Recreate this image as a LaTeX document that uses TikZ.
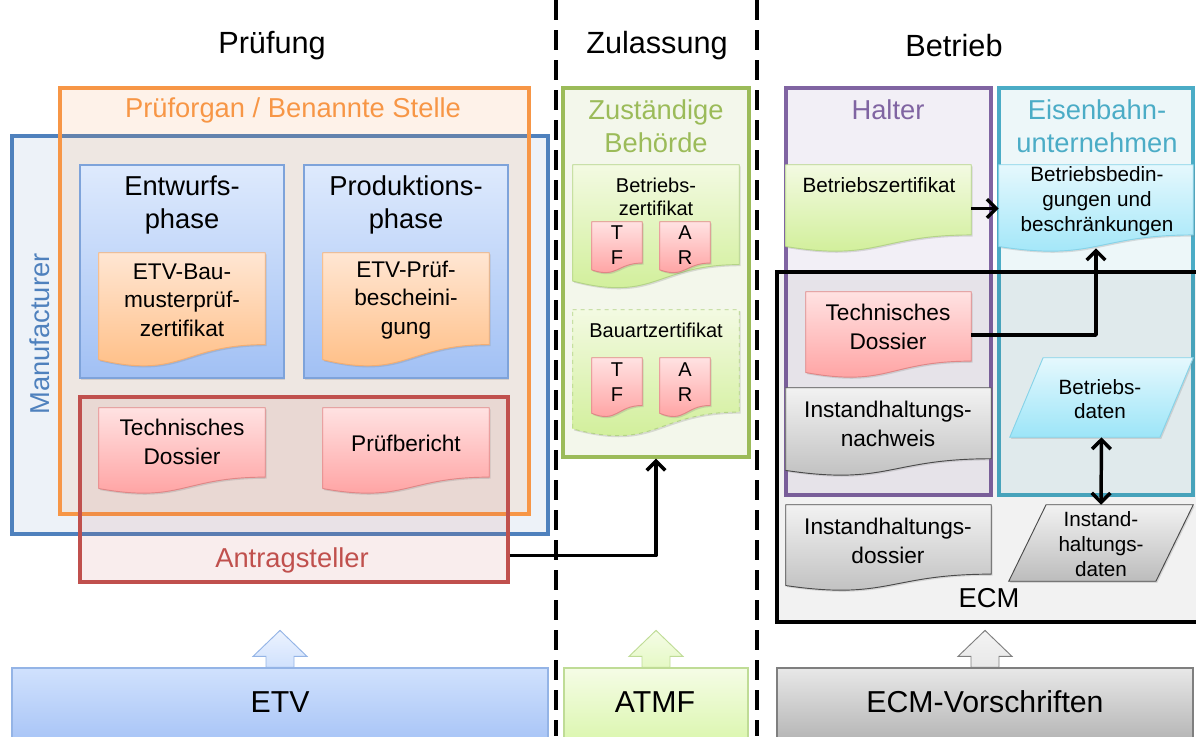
\documentclass[tikz,border=0pt]{standalone}
\usepackage{fontspec}
\setmainfont{Liberation Sans}
\usetikzlibrary{positioning,fit,calc,shadows,arrows.meta}

\definecolor{pruefOrange}{HTML}{F79646}
\definecolor{manufBlue}{HTML}{4F81BD}
\definecolor{antragRed}{HTML}{C0504D}
\definecolor{behoerdeGreen}{HTML}{9BBB59}
\definecolor{halterPurple}{HTML}{8064A2}
\definecolor{euTeal}{HTML}{4BACC6}

\definecolor{phaseTop}{HTML}{DEEAFD}
\definecolor{phaseBot}{HTML}{A1C0F4}
\definecolor{phaseLine}{HTML}{7EA3DA}
\definecolor{orTop}{HTML}{FFE6D3}
\definecolor{orBot}{HTML}{FFBC80}
\definecolor{orLine}{HTML}{F4AE72}
\definecolor{rdTop}{HTML}{FFE2E2}
\definecolor{rdBot}{HTML}{FF9D9D}
\definecolor{rdLine}{HTML}{E08686}
\definecolor{grTop}{HTML}{F3FAE2}
\definecolor{grBot}{HTML}{CEEE93}
\definecolor{grLine}{HTML}{B4D487}
\definecolor{gyTop}{HTML}{F2F2F2}
\definecolor{gyBot}{HTML}{BCBCBC}
\definecolor{gyLine}{HTML}{4A4A4A}
\definecolor{cyTop}{HTML}{E5F8FD}
\definecolor{cyBot}{HTML}{9CE5F8}
\definecolor{cyLine}{HTML}{86D3E8}

\definecolor{etvTop}{HTML}{D0E1FD}
\definecolor{etvBot}{HTML}{A6C3F6}
\definecolor{etvLine}{HTML}{94B4E6}
\definecolor{atmfTop}{HTML}{F5FCE6}
\definecolor{atmfBot}{HTML}{DAF6AC}
\definecolor{atmfLine}{HTML}{BFDC96}
\definecolor{ecmvTop}{HTML}{E8E8E8}
\definecolor{ecmvBot}{HTML}{B2B2B2}
\definecolor{ecmvLine}{HTML}{7F7F7F}

\newcommand{\docshape}[2]{%
  \path[#2] let \p1=(#1.north west), \p2=(#1.south east) in
    (\x1,\y1) -- (\x2,\y1) -- (\x2,{\y1+0.802*(\y2-\y1)})
    .. controls ({0.5*(\x1+\x2)},{\y1+0.802*(\y2-\y1)})
    and ({0.5*(\x1+\x2)},{\y1+1.1075*(\y2-\y1)})
    .. (\x1,{\y1+0.934*(\y2-\y1)}) -- cycle;}
\newcommand{\parashape}[3]{%
  \path[#3] (#1.south west) -- ([xshift=#2]#1.north west)
    -- (#1.north east) -- ([xshift=-#2]#1.south east) -- cycle;}

\begin{document}
\begin{tikzpicture}[x=0.75pt, y=-0.75pt,
    every node/.style={inner sep=0pt, align=center},
    zone/.style={fit={#1}, inner sep=0pt, line width=2.4pt},
    slot/.style={fit={#1}, inner sep=0pt},
    hdr/.style={font=\fontsize{23}{27}\selectfont},
    grp/.style={font=\fontsize{20.5}{25}\selectfont},
    doctxt/.style={font=\fontsize{17}{21.5}\selectfont},
    smalltxt/.style={font=\fontsize{15.5}{18.5}\selectfont},
    certtxt/.style={font=\fontsize{15}{17}\selectfont},
    tinytxt/.style={font=\fontsize{15}{18.5}\selectfont},
    basetxt/.style={font=\fontsize{22.7}{26}\selectfont},
    shadowed/.style={drop shadow={opacity=0.25, shadow xshift=1pt, shadow yshift=-1.2pt}},
    phasebox/.style={shadowed, draw=phaseLine, line width=0.9pt, top color=phaseTop, bottom color=phaseBot},
    orangedoc/.style={shadowed, draw=orLine, line width=0.7pt, top color=orTop, bottom color=orBot},
    reddoc/.style={shadowed, draw=rdLine, line width=0.7pt, top color=rdTop, bottom color=rdBot},
    greendoc/.style={shadowed, draw=grLine, line width=0.7pt, top color=grTop, bottom color=grBot},
    graydoc/.style={shadowed, draw=gyLine, line width=0.7pt, top color=gyTop, bottom color=gyBot},
    cyandoc/.style={shadowed, draw=cyLine, line width=0.7pt, top color=cyTop, bottom color=cyBot},
    basebox/.style={line width=0.9pt},
    blockup/.style={line width=0.7pt},
    divider/.style={line width=3pt, dash pattern=on 15pt off 7.5pt},
    conn/.style={line width=2.6pt, line join=round, -{Straight Barb[length=7pt, width=14pt]}},
    biconn/.style={line width=2.6pt, {Straight Barb[length=7pt, width=14pt]}-{Straight Barb[length=7pt, width=14pt]}}
  ]
    \useasboundingbox (0,0) rectangle (1196,736);
    \clip (0,0) rectangle (1196,736);

    % column headers and dividers
    \node[hdr] (pruefung) at (272,46) {Prüfung};
    \node[hdr] (zulassung) at (657,46) {Zulassung};
    \node[hdr] (betrieb) at (954,46) {Betrieb};
    \draw[divider] (556,0) -- (556,736);
    \draw[divider] (757,0) -- (757,736);

    % Pruefung
    \node[zone={(12,136) (548,534)}, draw=manufBlue, fill=manufBlue, fill opacity=0.1] (manuf) {};
    \node[zone={(60,88) (529,514)}, draw=pruefOrange, fill=pruefOrange, fill opacity=0.12] (organ) {};
    \node[zone={(80,397) (508,582)}, draw=antragRed, fill=antragRed, fill opacity=0.1] (antrag) {};
    \node[grp, text=manufBlue, rotate=90] (manuf-lbl) at (40,334) {Manufacturer};
    \node[grp, text=pruefOrange] (organ-lbl) at (293,110) {Prüforgan / Benannte Stelle};
    \node[grp, text=antragRed] (antrag-lbl) at (292,560) {Antragsteller};

    \node[zone={(80,165) (284,378)}, phasebox] (entwurf) {};
    \node[grp] (entwurf-txt) at (182,205) {Entwurfs-\\phase};
    \node[zone={(304,165) (508,378)}, phasebox] (produktion) {};
    \node[grp] (produktion-txt) at (406,205) {Produktions-\\phase};

    \node[slot={(99,253) (265,367)}] (etvbau) {};
    \docshape{etvbau}{orangedoc}
    \node[doctxt] (etvbau-txt) at (182,300) {ETV-Bau-\\musterprüf-\\zertifikat};
    \node[slot={(323,253) (489,367)}] (etvpruef) {};
    \docshape{etvpruef}{orangedoc}
    \node[doctxt] (etvpruef-txt) at (406,300) {ETV-Prüf-\\bescheini-\\gung};

    \node[slot={(99,408) (265,494)}] (techdoss) {};
    \docshape{techdoss}{reddoc}
    \node[doctxt] (techdoss-txt) at (182,442) {Technisches\\Dossier};
    \node[slot={(323,408) (489,494)}] (pbericht) {};
    \docshape{pbericht}{reddoc}
    \node[doctxt] (pbericht-txt) at (406,443) {Prüfbericht};

    % Zulassung
    \node[zone={(563,88) (749,457)}, draw=behoerdeGreen, fill=behoerdeGreen, fill opacity=0.12] (behoerde) {};
    \node[grp, text=behoerdeGreen] (behoerde-lbl) at (656,126) {Zuständige\\Behörde};

    \node[slot={(573,165) (739,289)}] (bzert) {};
    \docshape{bzert}{greendoc}
    \node[certtxt] (bzert-txt) at (656,197) {Betriebs-\\zertifikat};
    \node[slot={(592,222) (642,273)}] (bzert-tf) {};
    \docshape{bzert-tf}{reddoc}
    \node[tinytxt] (bzert-tf-txt) at (617,245) {T\\F};
    \node[slot={(660,222) (710,273)}] (bzert-ar) {};
    \docshape{bzert-ar}{reddoc}
    \node[tinytxt] (bzert-ar-txt) at (685,245) {A\\R};

    \node[slot={(573,310) (739,437)}] (bauart) {};
    \docshape{bauart}{greendoc, dashed}
    \node[certtxt] (bauart-txt) at (656,330) {Bauartzertifikat};
    \node[slot={(592,358) (642,417)}] (bauart-tf) {};
    \docshape{bauart-tf}{reddoc}
    \node[tinytxt] (bauart-tf-txt) at (617,382) {T\\F};
    \node[slot={(660,358) (710,417)}] (bauart-ar) {};
    \docshape{bauart-ar}{reddoc}
    \node[tinytxt] (bauart-ar-txt) at (685,382) {A\\R};

    \draw[conn] ([yshift=21pt]antrag.south east) -| (behoerde.south);

    % Betrieb
    \node[zone={(786,88) (991,495)}, draw=halterPurple, fill=halterPurple, fill opacity=0.1] (halter) {};
    \node[zone={(999,88) (1193,495)}, draw=euTeal, fill=euTeal, fill opacity=0.1] (eu) {};
    \node[grp, text=halterPurple] (halter-lbl) at (888,110) {Halter};
    \node[grp, text=euTeal] (eu-lbl) at (1097,126) {Eisenbahn-\\unternehmen};
    \node[zone={(777,272) (1215,622)}, line width=2.8pt, draw=black, fill=black, fill opacity=0.05] (ecm) {};
    \node[grp] (ecm-lbl) at (989,598) {ECM};

    \node[slot={(786,165) (971,252)}] (hbzert) {};
    \docshape{hbzert}{greendoc}
    \node[smalltxt] (hbzert-txt) at (879,185) {Betriebszertifikat};
    \node[slot={(999,165) (1193,252)}] (bbed) {};
    \docshape{bbed}{cyandoc}
    \node[smalltxt] (bbed-txt) at (1097,201) {Betriebsbedin-\\gungen und\\beschränkungen};

    \node[slot={(806,292) (971,378)}] (htech) {};
    \docshape{htech}{reddoc}
    \node[doctxt] (htech-txt) at (888,327) {Technisches\\Dossier};
    \node[slot={(786,388) (991,476)}] (nachweis) {};
    \docshape{nachweis}{graydoc}
    \node[doctxt] (nachweis-txt) at (888,424) {Instandhaltungs-\\nachweis};
    \node[slot={(786,505) (991,591)}] (idossier) {};
    \docshape{idossier}{graydoc}
    \node[doctxt] (idossier-txt) at (888,541) {Instandhaltungs-\\dossier};

    \node[slot={(1010,358) (1193,437)}] (bdaten) {};
    \parashape{bdaten}{25pt}{cyandoc}
    \node[smalltxt] (bdaten-txt) at (1100,399) {Betriebs-\\daten};
    \node[slot={(1009,505) (1193,581)}] (idaten) {};
    \parashape{idaten}{28pt}{graydoc}
    \node[smalltxt] (idaten-txt) at (1101,544) {Instand-\\haltungs-\\daten};

    \draw[conn] (hbzert.east) -- (bbed.west);
    \draw[conn] (htech.east) -| ([yshift=3pt]bbed.south);
    \draw[biconn] (bdaten.south) -- (idaten.north);

    % regulations
    \node[zone={(12,668) (548,745)}, basebox, draw=etvLine, top color=etvTop, bottom color=etvBot] (etv) {};
    \node[basetxt] (etv-txt) at (280,702) {ETV};
    \node[zone={(564,668) (748,745)}, basebox, draw=atmfLine, top color=atmfTop, bottom color=atmfBot] (atmf) {};
    \node[basetxt] (atmf-txt) at (655,702) {ATMF};
    \node[zone={(777,668) (1193,745)}, basebox, draw=ecmvLine, top color=ecmvTop, bottom color=ecmvBot] (ecmv) {};
    \node[basetxt] (ecmv-txt) at (985,702) {ECM-Vorschriften};

    \draw[blockup, draw=etvLine, top color=etvTop!40, bottom color=etvTop] (etv.north) ++(-14,0)
        -- ++(0,-11) -- ++(-13,0) -- ++(27,-26) -- ++(27,26) -- ++(-13,0) -- ++(0,11) -- cycle;
    \draw[blockup, draw=atmfLine, top color=atmfTop, bottom color=atmfBot!70] (atmf.north) ++(-14,0)
        -- ++(0,-11) -- ++(-13,0) -- ++(27,-26) -- ++(27,26) -- ++(-13,0) -- ++(0,11) -- cycle;
    \draw[blockup, draw=ecmvLine, top color=ecmvTop!50, bottom color=ecmvTop] (ecmv.north) ++(-14,0)
        -- ++(0,-11) -- ++(-13,0) -- ++(27,-26) -- ++(27,26) -- ++(-13,0) -- ++(0,11) -- cycle;
\end{tikzpicture}
\end{document}
